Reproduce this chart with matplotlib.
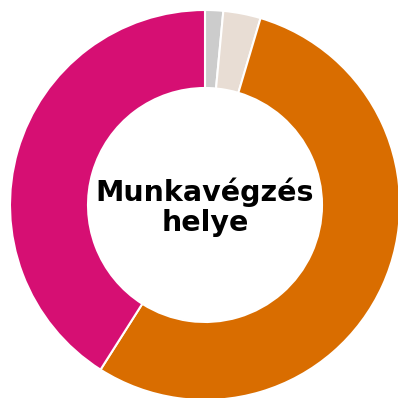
import matplotlib
matplotlib.use("Agg")
import matplotlib.pyplot as plt

# Share of respondents by place of work.
labels = ["Egyéb", "Vegyes", "Iroda", "Otthon"]
shares = [1.5, 3.1, 54.4, 41.0]
colors = ["#cccccc", "#e8ddd4", "#d96d00", "#d60f73"]

fig = plt.figure(figsize=(3.98, 3.98), dpi=100)
ax = fig.add_axes([0, 0, 1, 1])

ax.pie(shares, colors=colors, startangle=90, counterclock=False,
       radius=1.0,
       wedgeprops=dict(width=0.4, edgecolor="white", linewidth=1.5))

ax.text(0, -0.01, "Munkavégzés\nhelye", ha="center", va="center",
        fontsize=20.5, fontweight="bold", color="black", linespacing=1.1)

# Keep the ring slightly off-centre, clipped at the right and bottom.
ax.set_xlim(-205 / 195, 193 / 195)
ax.set_ylim(-193 / 195, 205 / 195)
ax.set_aspect("equal")
ax.axis("off")

plt.savefig("out.png", dpi=100)
